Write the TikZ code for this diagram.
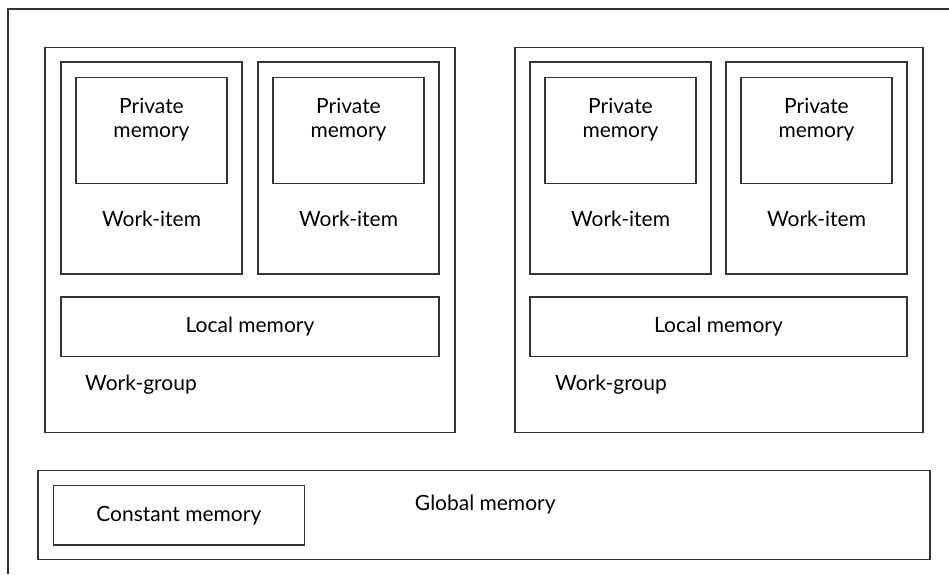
\documentclass[tikz,border=0pt]{standalone}
\usepackage{fontspec}
\setmainfont{Lato}

\begin{document}
\begin{tikzpicture}[x=1pt,y=-1pt]
    \tikzset{box/.style = {shape=rectangle, draw=black!80, line width=1.3pt, inner sep=0pt, font=\fontsize{21}{24}\selectfont}}
    \tikzset{lbl/.style = {inner sep=0pt, align=center, font=\fontsize{21}{24}\selectfont}}

    \useasboundingbox (0,0) rectangle (949,574);
    \draw[draw=black!80, line width=1.1pt] (8,574) -- (8,9) -- (949,9);

    \node[box, minimum width=410, minimum height=385] (wg1) at (250,240) {};
    \node[box, minimum width=408, minimum height=385] (wg2) at (719,240) {};

    \node[box, minimum width=181, minimum height=212] (wi1) at (151.5,168) {};
    \node[box, minimum width=181, minimum height=212] (wi2) at (348.5,168) {};
    \node[box, minimum width=181, minimum height=212] (wi3) at (620.5,168) {};
    \node[box, minimum width=181, minimum height=212] (wi4) at (816.5,168) {};

    \node[box, minimum width=151, minimum height=106] (pm1) at (151.5,130.4) {};
    \node[box, minimum width=151, minimum height=106] (pm2) at (348.5,130.4) {};
    \node[box, minimum width=151, minimum height=106] (pm3) at (620.5,130.4) {};
    \node[box, minimum width=151, minimum height=106] (pm4) at (816.5,130.4) {};

    \node[lbl, anchor=base] (pm1text) at (151.5,137.5) {Private\\memory};
    \node[lbl, anchor=base] (pm2text) at (348.5,137.5) {Private\\memory};
    \node[lbl, anchor=base] (pm3text) at (620.5,137.5) {Private\\memory};
    \node[lbl, anchor=base] (pm4text) at (816.5,137.5) {Private\\memory};

    \node[lbl, anchor=base] (wi1text) at (151.5,226) {Work-item};
    \node[lbl, anchor=base] (wi2text) at (348.5,226) {Work-item};
    \node[lbl, anchor=base] (wi3text) at (620.5,226) {Work-item};
    \node[lbl, anchor=base] (wi4text) at (816.5,226) {Work-item};

    \node[box, minimum width=378, minimum height=59.5] (lm1) at (250,326.7) {Local memory};
    \node[box, minimum width=377, minimum height=59.5] (lm2) at (718.5,326.7) {Local memory};

    \node[lbl, anchor=base west] (wg1text) at (85,390.7) {Work-group};
    \node[lbl, anchor=base west] (wg2text) at (555,390.7) {Work-group};

    \node[box, minimum width=892, minimum height=89] (gm) at (484,514.8) {};
    \node[box, minimum width=251, minimum height=59.3] (cm) at (178.8,515.3) {Constant memory};
    \node[lbl, anchor=base] (gmtext) at (485.3,510.7) {Global memory};
\end{tikzpicture}
\end{document}
